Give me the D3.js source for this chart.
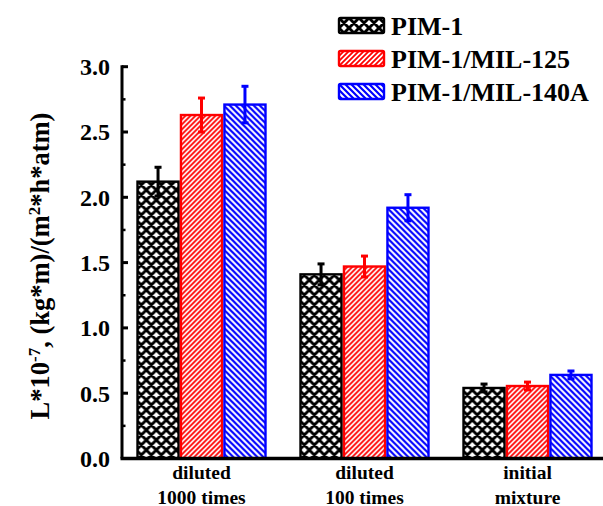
<!DOCTYPE html>
<html>
<head>
<meta charset="utf-8">
<script src="https://cdn.jsdelivr.net/npm/d3@7"></script>
<style>
  html, body { margin: 0; padding: 0; background: #fff; }
  svg { display: block; }
</style>
</head>
<body>
<svg id="chart" width="603" height="506"></svg>
<script>
// Dilution conditions along the x axis (two-line labels)
const categories = ["diluted|1000 times", "diluted|100 times", "initial|mixture"];
const seriesNames = ["PIM-1", "PIM-1/MIL-125", "PIM-1/MIL-140A"];
// Permeability values, L*10^-7 (kg*m)/(m^2*h*atm)
const pim1Values      = [2.12, 1.41, 0.54];
const mil125Values    = [2.63, 1.47, 0.555];
const mil140aValues   = [2.71, 1.92, 0.64];
// Standard deviations
const pim1Errors      = [0.11, 0.08, 0.03];
const mil125Errors    = [0.13, 0.08, 0.03];
const mil140aErrors   = [0.14, 0.10, 0.03];
const yTicks = [0.0, 0.5, 1.0, 1.5, 2.0, 2.5, 3.0];
const yMinorTicks = [0.25, 0.75, 1.25, 1.75, 2.25, 2.75];

const seriesValues = [pim1Values, mil125Values, mil140aValues];
const seriesErrors = [pim1Errors, mil125Errors, mil140aErrors];
const colors = ["#000000", "#ff0000", "#0000ff"];
const FONT = "Liberation Serif";

const svg = d3.select("#chart");
const label = sel => sel.style("font-family", FONT).style("font-weight", "bold").attr("fill", "#000");

// Hatch patterns
const defs = svg.append("defs");
const cross = defs.append("pattern").attr("id", "pat0")
  .attr("patternUnits", "userSpaceOnUse").attr("width", 10).attr("height", 10);
cross.append("rect").attr("width", 10).attr("height", 10).attr("fill", "#fff");
cross.append("path").attr("d", "M-2,2 L2,-2 M0,10 L10,0 M8,12 L12,8 M-2,8 L2,12 M0,0 L10,10 M8,-2 L12,2")
  .attr("stroke", "#000").attr("stroke-width", 2.9);

const fwd = defs.append("pattern").attr("id", "pat1")
  .attr("patternUnits", "userSpaceOnUse").attr("width", 5).attr("height", 5);
fwd.append("rect").attr("width", 5).attr("height", 5).attr("fill", "#fff");
fwd.append("path").attr("d", "M-1,1 L1,-1 M0,5 L5,0 M4,6 L6,4")
  .attr("stroke", colors[1]).attr("stroke-width", 1.8);

const bwd = defs.append("pattern").attr("id", "pat2")
  .attr("patternUnits", "userSpaceOnUse").attr("width", 6).attr("height", 6);
bwd.append("rect").attr("width", 6).attr("height", 6).attr("fill", "#fff");
bwd.append("path").attr("d", "M-1,5 L1,7 M0,0 L6,6 M5,-1 L7,1")
  .attr("stroke", colors[2]).attr("stroke-width", 2.2);

// Scales
const plotLeft = 122, plotTop = 66.7, plotBottom = 458.5;
const x = d3.scaleBand().domain(categories).range([120, 609]).paddingInner(0.2).paddingOuter(0.1);
const xs = d3.scaleBand().domain(seriesNames).range([0, x.bandwidth()]);
const y = d3.scaleLinear().domain([0, 3]).range([plotBottom, plotTop]);

// Bars
const groups = svg.append("g").selectAll("g").data(categories).join("g")
  .attr("transform", d => `translate(${x(d)},0)`);

seriesNames.forEach((s, si) => {
  groups.append("rect")
    .attr("x", xs(s) + 1.2)
    .attr("y", (d, i) => y(seriesValues[si][i]))
    .attr("width", xs.bandwidth() - 2.4)
    .attr("height", (d, i) => y(0) - y(seriesValues[si][i]))
    .attr("fill", `url(#pat${si})`)
    .attr("stroke", colors[si]).attr("stroke-width", 2.4);
});

// Error bars
seriesNames.forEach((s, si) => {
  const cx = xs(s) + xs.bandwidth() / 2;
  const eb = groups.append("g").attr("stroke", colors[si]);
  eb.append("line")
    .attr("x1", cx).attr("x2", cx)
    .attr("y1", (d, i) => y(seriesValues[si][i] + seriesErrors[si][i]))
    .attr("y2", (d, i) => y(seriesValues[si][i] - seriesErrors[si][i]))
    .attr("stroke-width", 3);
  [1, -1].forEach(sign => {
    eb.append("line")
      .attr("x1", cx - 3.5).attr("x2", cx + 3.5)
      .attr("y1", (d, i) => y(seriesValues[si][i] + sign * seriesErrors[si][i]))
      .attr("y2", (d, i) => y(seriesValues[si][i] + sign * seriesErrors[si][i]))
      .attr("stroke-width", 3);
  });
});

// Y axis
const yAxis = svg.append("g").attr("transform", `translate(${plotLeft},0)`);
yAxis.append("line").attr("x1", 0).attr("x2", 0).attr("y1", plotTop - 1.5).attr("y2", plotBottom)
  .attr("stroke", "#000").attr("stroke-width", 3);
yAxis.selectAll(".major").data(yTicks).join("line")
  .attr("x1", 0).attr("x2", 6).attr("y1", d => y(d)).attr("y2", d => y(d))
  .attr("stroke", "#000").attr("stroke-width", 3);
yAxis.selectAll(".minor").data(yMinorTicks).join("line")
  .attr("x1", 0).attr("x2", 3.5).attr("y1", d => y(d)).attr("y2", d => y(d))
  .attr("stroke", "#000").attr("stroke-width", 2.5);
yAxis.selectAll("text").data(yTicks).join("text")
  .attr("x", -12).attr("y", d => y(d)).attr("dy", "0.35em")
  .attr("text-anchor", "end").attr("font-size", 24)
  .call(label)
  .text(d3.format(".1f"));

// X axis line
svg.append("line").attr("x1", plotLeft - 1.5).attr("x2", 603).attr("y1", plotBottom).attr("y2", plotBottom)
  .attr("stroke", "#000").attr("stroke-width", 3.5);

// Category labels
svg.append("g").selectAll("text").data(categories).join("text")
  .attr("text-anchor", "middle").attr("font-size", 19.5)
  .call(label)
  .attr("transform", d => `translate(${x(d) + x.bandwidth() / 2},0)`)
  .each(function (d) {
    const parts = d.split("|");
    d3.select(this).selectAll("tspan").data(parts).join("tspan")
      .attr("x", 0).attr("y", (p, i) => 479 + i * 24.5).text(p => p);
  });

// Y axis title
const yt = svg.append("text")
  .attr("transform", "translate(49,266) rotate(-90)")
  .attr("text-anchor", "middle").attr("font-size", 26.5)
  .call(label);
yt.append("tspan").text("L*10");
yt.append("tspan").attr("baseline-shift", "super").attr("font-size", 17).text("-7");
yt.append("tspan").text(", (kg*m)/(m");
yt.append("tspan").attr("baseline-shift", "super").attr("font-size", 17).text("2");
yt.append("tspan").text("*h*atm)");

// Legend
const legend = svg.append("g").selectAll("g").data(seriesNames).join("g")
  .attr("transform", (d, i) => `translate(339,${18 + i * 33})`);
legend.append("rect").attr("width", 45).attr("height", 15)
  .attr("fill", (d, i) => `url(#pat${i})`)
  .attr("stroke", (d, i) => colors[i]).attr("stroke-width", 2.4).attr("rx", 1.5);
legend.append("text").attr("x", 52).attr("y", 7.5).attr("dy", "0.36em")
  .attr("font-size", 26).call(label).text(d => d);
</script>
</body>
</html>
